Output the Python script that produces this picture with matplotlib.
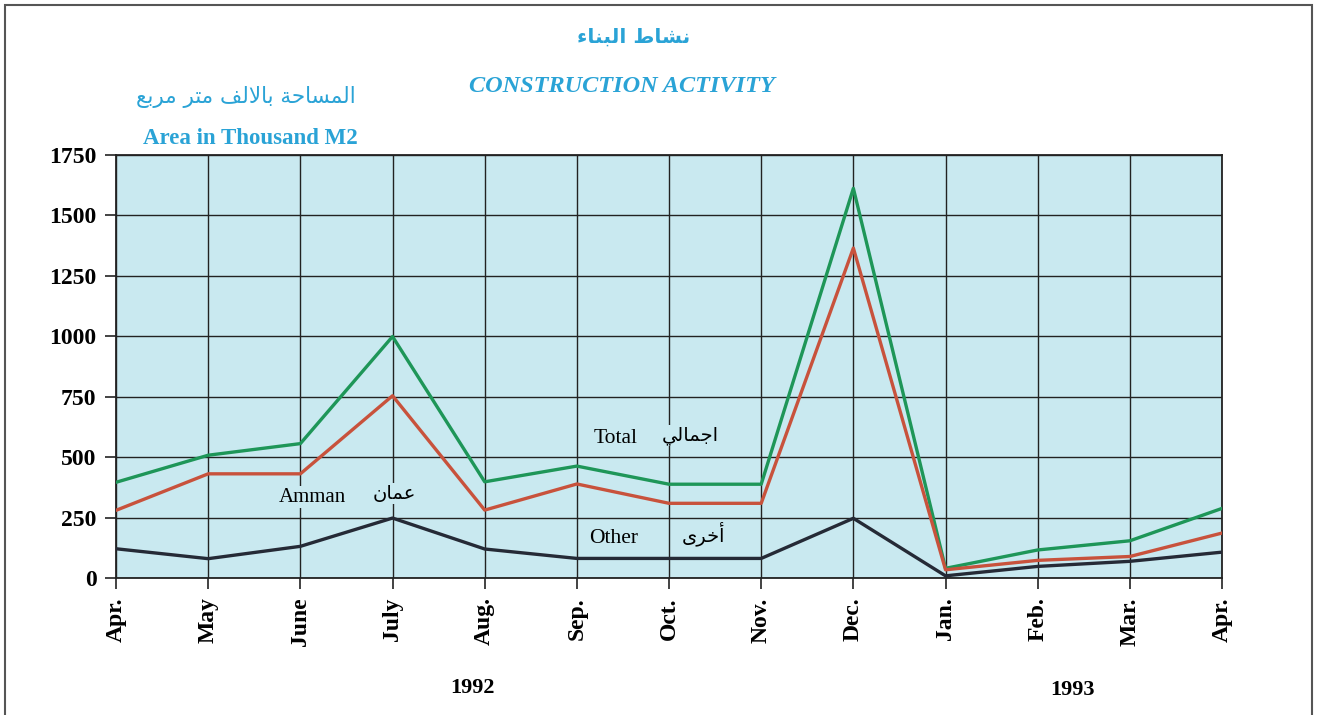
import matplotlib
matplotlib.use('Agg')
import matplotlib.pyplot as plt
from matplotlib.patches import Rectangle

months = ['Apr.', 'May', 'June', 'July', 'Aug.', 'Sep.', 'Oct.', 'Nov.', 'Dec.',
          'Jan.', 'Feb.', 'Mar.', 'Apr.']
total = [396, 508, 556, 999, 398, 463, 388, 388, 1612, 40, 116, 154, 288]
amman = [280, 431, 431, 754, 281, 389, 309, 309, 1365, 34, 73, 89, 186]
other = [121, 80, 131, 248, 120, 81, 81, 81, 247, 9, 48, 69, 107]
yticks = [0, 250, 500, 750, 1000, 1250, 1500, 1750]

CYAN = '#2aa3d6'
BG = '#c9e9f0'
SERIF = 'Liberation Serif'
ARABIC = 'DejaVu Sans'

# matplotlib does no arabic shaping, so pick the presentation forms by hand
# (isolated, final, initial, medial) - right-joining letters only have two
FORMS = {
    'ا': '\ufe8d\ufe8e', 'أ': '\ufe83\ufe84', 'ر': '\ufead\ufeae',
    'ة': '\ufe93\ufe94', 'ى': '\ufeef\ufef0', 'ء': '\ufe80',
    'ب': '\ufe8f\ufe90\ufe91\ufe92', 'ت': '\ufe95\ufe96\ufe97\ufe98',
    'ج': '\ufe9d\ufe9e\ufe9f\ufea0', 'ح': '\ufea1\ufea2\ufea3\ufea4',
    'خ': '\ufea5\ufea6\ufea7\ufea8', 'س': '\ufeb1\ufeb2\ufeb3\ufeb4',
    'ش': '\ufeb5\ufeb6\ufeb7\ufeb8', 'ط': '\ufec1\ufec2\ufec3\ufec4',
    'ع': '\ufec9\ufeca\ufecb\ufecc', 'ف': '\ufed1\ufed2\ufed3\ufed4',
    'ل': '\ufedd\ufede\ufedf\ufee0', 'م': '\ufee1\ufee2\ufee3\ufee4',
    'ن': '\ufee5\ufee6\ufee7\ufee8', 'ي': '\ufef1\ufef2\ufef3\ufef4',
}
LAM_ALEF = {'ا': '\ufefb\ufefc', 'أ': '\ufef7\ufef8'}


def shape(text):
    out = []
    prev_joins = False
    i = 0
    while i < len(text):
        c = text[i]
        nxt = text[i + 1] if i + 1 < len(text) else ''
        if c == 'ل' and nxt in LAM_ALEF:
            out.append(LAM_ALEF[nxt][1 if prev_joins else 0])
            prev_joins = False
            i += 2
            continue
        forms = FORMS.get(c)
        if forms is None:
            out.append(c)
            prev_joins = False
            i += 1
            continue
        dual = len(forms) == 4
        joins_prev = prev_joins and len(forms) > 1
        joins_next = dual and nxt in FORMS and len(FORMS[nxt]) > 1
        if joins_prev and joins_next:
            out.append(forms[3])
        elif joins_prev:
            out.append(forms[1])
        elif joins_next:
            out.append(forms[2])
        else:
            out.append(forms[0])
        prev_joins = dual
        i += 1
    return ''.join(reversed(out))


fig = plt.figure(figsize=(13.17, 7.15), dpi=100)
ax = fig.add_axes([0.0881, 0.1916, 0.8398, 0.5916])
ax.set_facecolor(BG)

x = list(range(len(months)))
ax.plot(x, total, color='#1e9658', linewidth=2.4, zorder=4)
ax.plot(x, amman, color='#c8523c', linewidth=2.4, zorder=4)
ax.plot(x, other, color='#252a36', linewidth=2.4, zorder=5)

ax.set_xlim(0, len(months) - 1)
ax.set_ylim(0, 1750)
ax.set_xticks(x)
ax.set_xticklabels(months, rotation=90, fontsize=17, fontweight='bold',
                   family=SERIF, va='top')
ax.set_yticks(yticks)
ax.set_yticklabels([str(v) for v in yticks], fontsize=17, fontweight='bold',
                   family=SERIF)
ax.tick_params(axis='both', direction='out', length=8, width=1.2, color='#222',
               pad=6)
ax.grid(True, color='#222', linewidth=1.0)
ax.set_axisbelow(True)
for s in ax.spines.values():
    s.set_color('#222')
    s.set_linewidth(1.3)

# series labels sitting on the chart
box = dict(facecolor=BG, edgecolor='none', pad=1)
ax.text(2.13, 335, 'Amman', fontsize=15, family=SERIF, ha='center', va='center',
        bbox=box, zorder=6)
ax.text(3.02, 350, shape('عمان'), fontsize=14, family=ARABIC, ha='center',
        va='center', bbox=box, zorder=6)
ax.text(5.42, 578, 'Total', fontsize=15.5, family=SERIF, ha='center', va='center',
        bbox=box, zorder=6)
ax.text(6.23, 590, shape('اجمالي'), fontsize=14, family=ARABIC, ha='center',
        va='center', bbox=box, zorder=6)
ax.text(5.40, 165, 'Other', fontsize=15.5, family=SERIF, ha='center', va='center',
        bbox=box, zorder=6)
ax.text(6.37, 185, shape('أخرى'), fontsize=14, family=ARABIC, ha='center',
        va='center', bbox=box, zorder=6)

# titles
fig.text(634 / 1317, 1 - 37 / 715, shape('نشاط البناء'), fontsize=14.5,
         fontweight='bold', family=ARABIC, color=CYAN, ha='center', va='center')
fig.text(622 / 1317, 1 - 86 / 715, 'CONSTRUCTION ACTIVITY', fontsize=17.5,
         fontweight='bold', style='italic', family=SERIF, color=CYAN,
         ha='center', va='center')
fig.text(246 / 1317, 1 - 97 / 715, shape('المساحة بالالف متر مربع'),
         fontsize=15.5, family=ARABIC, color=CYAN, ha='center', va='center')
fig.text(250 / 1317, 1 - 139 / 715, 'Area in Thousand M2', fontsize=16.5,
         fontweight='bold', family=SERIF, color=CYAN, ha='center', va='center')

# years under the month labels
fig.text(473 / 1317, 1 - 688 / 715, '1992', fontsize=16, fontweight='bold',
         family=SERIF, ha='center', va='center')
fig.text(1072 / 1317, 1 - 690 / 715, '1993', fontsize=16, fontweight='bold',
         family=SERIF, ha='center', va='center')

# page frame
fig.patches.append(Rectangle((5 / 1317, -0.05), 1307 / 1317, 1.05 - 5 / 715,
                             transform=fig.transFigure, fill=False,
                             edgecolor='#555', linewidth=1.5))

fig.savefig('out.png', dpi=100)
